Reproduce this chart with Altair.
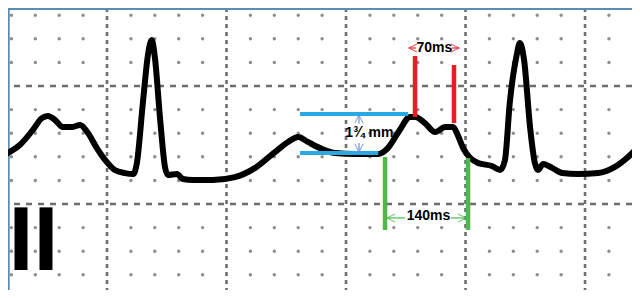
import altair as alt
import pandas as pd

# ---- ECG trace (lead II): time in ms, amplitude in mm (10 mm/mV) ----
ecg_t = [34, 54, 76, 91, 101, 113, 126, 141, 155, 167, 183, 197, 213, 230, 244, 250, 260, 269, 275, 280,
         289, 297, 302, 317, 327, 344, 377, 414, 448, 481, 503, 520, 536, 560, 582, 615, 654, 670, 690, 707,
         716, 732, 749, 766, 779, 787, 796, 808, 821, 844, 858, 866, 874, 885, 891, 898, 908, 916, 921, 930,
         945, 962, 988, 1022, 1050, 1072, 1092]
ecg_mm = [2.16, 2.50, 3.14, 3.64, 3.73, 3.56, 3.26, 3.26, 3.35, 3.05, 2.37, 1.86, 1.44, 1.31, 1.27, 1.74, 4.28, 6.40, 6.95, 6.23,
          3.56, 1.57, 1.23, 1.27, 1.06, 1.02, 1.02, 1.14, 1.53, 2.20, 2.63, 2.84, 2.63, 2.33, 2.16, 2.12, 2.12, 2.37, 3.14, 3.69,
          3.69, 3.43, 3.05, 3.26, 3.26, 2.92, 2.37, 1.95, 1.74, 1.61, 1.44, 1.86, 4.28, 6.23, 6.82, 6.10, 3.26, 1.74, 1.44, 1.70,
          1.53, 1.31, 1.27, 1.31, 1.57, 1.99, 2.50]

# ---- ECG paper grid ----
major_t = [200, 400, 600, 800, 1000]
major_mm = [0, 5]
minor_t = [40, 80, 120, 160, 240, 280, 320, 360, 440, 480, 520, 560, 640, 680, 720, 760, 840, 880, 920, 960, 1040]
minor_mm = [-3, -2, -1, 1, 2, 3, 4, 6, 7, 8]

# ---- annotations ----
blue_t1 = [523, 523]
blue_t2 = [704, 654]
blue_mm = [3.81, 2.16]

red_t = [715.5, 780.7]
red_mm1 = [3.69, 3.43]
red_mm2 = [6.27, 5.89]

green_t = [665.3, 804.2]
green_mm1 = [1.99, 1.95]
green_mm2 = [-1.10, -1.10]

# thin arrow shafts
shaft_t1 = [621.7, 621.7, 705.4, 777.4, 668.6, 775.7]
shaft_t2 = [621.7, 621.7, 717.0, 789.1, 698.7, 800.8]
shaft_mm1 = [3.77, 2.58, 6.61, 6.61, -0.59, -0.59]
shaft_mm2 = [3.40, 2.20, 6.61, 6.61, -0.59, -0.59]
shaft_col = ["#6d8fd8", "#6d8fd8", "#e8262e", "#e8262e", "#4fb84a", "#4fb84a"]

# arrow heads (tips)
head_t = [621.7, 621.7, 705.4, 789.1, 668.6, 800.8]
head_mm = [3.77, 2.20, 6.61, 6.61, -0.59, -0.59]
head_dir = ["up", "down", "left", "right", "left", "right"]
head_col = ["#6d8fd8", "#6d8fd8", "#e8262e", "#e8262e", "#4fb84a", "#4fb84a"]

labels = ["1¾ mm", "70ms", "140ms"]
label_t = [639, 748, 738]
label_mm = [3.01, 6.61, -0.51]

lead_label = ["II"]
lead_t = [77]
lead_mm = [-2.80]

border_top_mm = [8.26]
border_left_t = [35.5]

# ---- frames ----
ecg = pd.DataFrame({"t": ecg_t, "mm": ecg_mm})
dots = pd.DataFrame([(t, m) for t in minor_t for m in minor_mm], columns=["t", "mm"])
vmaj = pd.DataFrame({"t": major_t})
hmaj = pd.DataFrame({"mm": major_mm})
blue = pd.DataFrame({"t1": blue_t1, "t2": blue_t2, "mm": blue_mm})
red = pd.DataFrame({"t": red_t, "mm1": red_mm1, "mm2": red_mm2})
green = pd.DataFrame({"t": green_t, "mm1": green_mm1, "mm2": green_mm2})
shafts = pd.DataFrame({"t1": shaft_t1, "t2": shaft_t2, "mm1": shaft_mm1, "mm2": shaft_mm2, "col": shaft_col})
paths = {"up": "M -1 2 L 0 0 L 1 2", "down": "M -1 -2 L 0 0 L 1 -2",
         "left": "M 2 -1 L 0 0 L 2 1", "right": "M -2 -1 L 0 0 L -2 1"}
heads = pd.DataFrame({"t": head_t, "mm": head_mm, "shape": [paths[d] for d in head_dir], "col": head_col})
texts = pd.DataFrame({"t": label_t, "mm": label_mm, "label": labels})
lead = pd.DataFrame({"t": lead_t, "mm": lead_mm, "label": lead_label})
btop = pd.DataFrame({"mm": border_top_mm})
bleft = pd.DataFrame({"t": border_left_t})

xs = alt.Scale(domain=[34.3, 1078.6], nice=False, zero=False)
ys = alt.Scale(domain=[-3.643, 8.305], nice=False, zero=False)
X = lambda f: alt.X(f, type="quantitative", scale=xs, axis=None)
Y = lambda f: alt.Y(f, type="quantitative", scale=ys, axis=None)

dot_layer = alt.Chart(dots).mark_circle(size=12, color="#7a7a7a", opacity=0.85).encode(x=X("t"), y=Y("mm"))
vmaj_layer = alt.Chart(vmaj).mark_rule(color="#6e6e6e", strokeWidth=2.6, strokeDash=[4, 4]).encode(x=X("t"))
hmaj_layer = alt.Chart(hmaj).mark_rule(color="#6e6e6e", strokeWidth=2.6, strokeDash=[6, 6]).encode(y=Y("mm"))
btop_layer = alt.Chart(btop).mark_rule(color="#5b8db0", strokeWidth=2).encode(y=Y("mm"))
bleft_layer = alt.Chart(bleft).mark_rule(color="#5b8db0", strokeWidth=2).encode(x=X("t"))

trace = alt.Chart(ecg).mark_line(color="black", strokeWidth=6, interpolate="monotone",
                                 strokeCap="round", strokeJoin="round").encode(x=X("t"), y=Y("mm"))

lead_layer = alt.Chart(lead).mark_text(font="Liberation Sans", fontWeight="bold", fontSize=90,
                                       baseline="alphabetic", align="center", color="black").encode(
    x=X("t"), y=Y("mm"), text="label:N")

blue_layer = alt.Chart(blue).mark_rule(color="#29a9e1", strokeWidth=4).encode(x=X("t1"), x2="t2", y=Y("mm"))
red_layer = alt.Chart(red).mark_rule(color="#ec1c24", strokeWidth=4.5).encode(x=X("t"), y=Y("mm1"), y2="mm2")
green_layer = alt.Chart(green).mark_rule(color="#4fb84a", strokeWidth=4.5).encode(x=X("t"), y=Y("mm1"), y2="mm2")

shaft_layer = alt.Chart(shafts).mark_rule(strokeWidth=1.2).encode(
    x=X("t1"), x2="t2", y=Y("mm1"), y2="mm2", color=alt.Color("col:N", scale=None))
head_layer = alt.Chart(heads).mark_point(filled=False, size=64, strokeWidth=1.2).encode(
    x=X("t"), y=Y("mm"), shape=alt.Shape("shape:N", scale=None), stroke=alt.Stroke("col:N", scale=None))

text_layer = alt.Chart(texts).mark_text(font="Liberation Sans", fontWeight="bold", fontSize=14,
                                        baseline="middle", align="center", color="black").encode(
    x=X("t"), y=Y("mm"), text="label:N")

chart = alt.layer(
    dot_layer, vmaj_layer, hmaj_layer, btop_layer, bleft_layer,
    trace, lead_layer, blue_layer, red_layer, green_layer,
    shaft_layer, head_layer, text_layer
).properties(
    width=624, height=282, padding=0, autosize=alt.AutoSizeParams(type="none"), background="white"
).configure_view(strokeWidth=0)

chart.save("out.html", embed_options={"renderer": "svg", "actions": False})
